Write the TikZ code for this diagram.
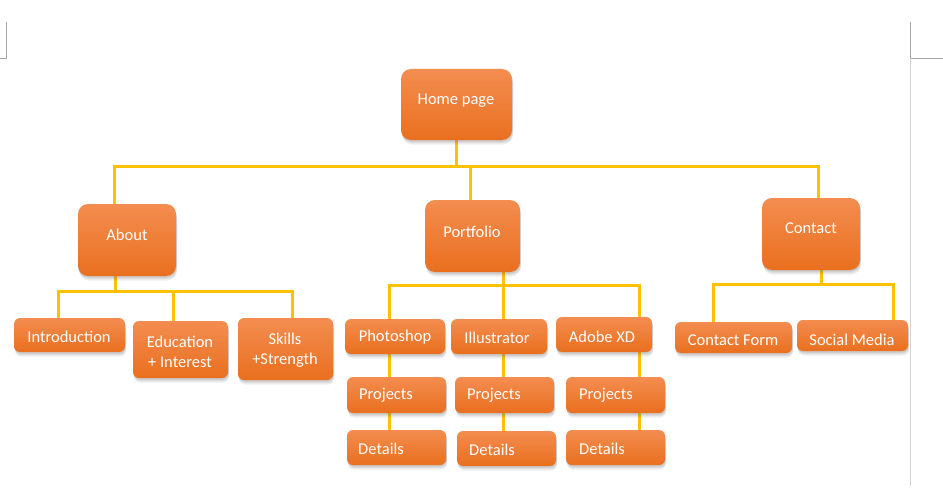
\documentclass[tikz,border=0pt]{standalone}
\usepackage{fontspec}
\setmainfont{Carlito}
\usetikzlibrary{shadows,calc}
\pgfdeclarelayer{bg}
\pgfdeclarelayer{paper}
\pgfsetlayers{paper,bg,main}
\definecolor{otop}{HTML}{F38D50}
\definecolor{obot}{HTML}{E96F1E}
\definecolor{gold}{HTML}{FFC000}
\definecolor{shd}{HTML}{606060}
\tikzset{
  box/.style={rounded corners=#1, top color=otop, bottom color=obot, draw=none,
    inner sep=0pt,
    general shadow={fill=shd, opacity=.10, shadow xshift=1pt, shadow yshift=-4.5pt},
    general shadow={fill=shd, opacity=.12, shadow xshift=1pt, shadow yshift=-3pt},
    general shadow={fill=shd, opacity=.15, shadow xshift=0.5pt, shadow yshift=-1.5pt}},
  box/.default=6pt,
  lbl/.style={text=white, font=\fontsize{16.5}{20}\selectfont, inner sep=0pt, align=center},
  conn/.style={draw=gold, line width=3pt},
  pagemark/.style={draw=gray!70, line width=0.8pt}
}
\begin{document}
\begin{tikzpicture}[x=1pt,y=-1pt]
\useasboundingbox (0,0) rectangle (943,495);
\begin{pgfonlayer}{paper}
\fill[white] (0,0) rectangle (943,495);
\end{pgfonlayer}
% page marks
\draw[pagemark] (6.5,22) -- (6.5,58) -- (0,58);
\draw[pagemark] (910,22) -- (910,58) -- (943,58);
\draw[gray!35, line width=0.8pt] (910,58) -- (910,486);

% level 0/1
\node[box=10pt, minimum width=111pt, minimum height=71pt] (home) at (456.5,104.5) {};
\node[lbl] (homet) at (456,100.5) {Home page};
\node[box=10pt, minimum width=98pt, minimum height=72pt] (about) at (127,240) {};
\node[lbl] (aboutt) at (127,234.5) {About};
\node[box=10pt, minimum width=95pt, minimum height=72pt] (portfolio) at (472.5,236) {};
\node[lbl] (portfoliot) at (472,231.5) {Portfolio};
\node[box=10pt, minimum width=98pt, minimum height=72pt] (contact) at (811,234) {};
\node[lbl] (contactt) at (811,228.5) {Contact};

% about children
\node[box, minimum width=111pt, minimum height=34pt] (intro) at (69.5,335) {};
\node[lbl] (introt) at (69,337) {Introduction};
\node[box, minimum width=95pt, minimum height=57pt] (edu) at (180.5,349.5) {};
\node[lbl] (edut) at (180,351.5) {Education\\+ Interest};
\node[box, minimum width=95pt, minimum height=62pt] (skills) at (285.5,349) {};
\node[lbl] (skillst) at (285,350) {Skills\\+Strength};

% portfolio children
\node[box, minimum width=100pt, minimum height=35pt] (ps) at (395,336.5) {};
\node[lbl] (pst) at (395,337.5) {Photoshop};
\node[box, minimum width=96pt, minimum height=35pt] (il) at (499,336.5) {};
\node[lbl] (ilt) at (497,337.5) {Illustrator};
\node[box, minimum width=96pt, minimum height=35pt] (xd) at (604,334.5) {};
\node[lbl] (xdt) at (602,336.5) {Adobe XD};
\node[box, minimum width=99pt, minimum height=36pt] (p1) at (396.5,395) {};
\node[lbl] (p1t) at (386,395.5) {Projects};
\node[box, minimum width=99pt, minimum height=36pt] (p2) at (504.5,395) {};
\node[lbl] (p2t) at (494,395.5) {Projects};
\node[box, minimum width=99pt, minimum height=36pt] (p3) at (615.5,395) {};
\node[lbl] (p3t) at (606,395.5) {Projects};
\node[box, minimum width=99pt, minimum height=35pt] (d1) at (396.5,447.5) {};
\node[lbl] (d1t) at (381,448.5) {Details};
\node[box, minimum width=99pt, minimum height=35pt] (d2) at (506.5,448.5) {};
\node[lbl] (d2t) at (492,449.5) {Details};
\node[box, minimum width=99pt, minimum height=35pt] (d3) at (615.5,447.5) {};
\node[lbl] (d3t) at (602,448.5) {Details};

% contact children
\node[box, minimum width=117pt, minimum height=31pt] (cf) at (733.5,337.5) {};
\node[lbl] (cft) at (733,340.5) {Contact Form};
\node[box, minimum width=111pt, minimum height=31pt] (sm) at (852.5,335.5) {};
\node[lbl] (smt) at (852,339.5) {Social Media};

\begin{pgfonlayer}{bg}
\draw[conn] (home.south) -- ++(0,27);
\draw[conn] ([xshift=-13pt]about.north) -- ++(0,-37) -| ([xshift=7pt]contact.north);
\draw[conn] ([xshift=-2.5pt]portfolio.north) -- ++(0,-33);
% about
\draw[conn] ([xshift=-12pt]about.south) -- ++(0,16);
\draw[conn] ([xshift=-11.5pt]intro.north) -- ++(0,-26) -| ([xshift=6.5pt]skills.north);
\draw[conn] ([xshift=-7.5pt]edu.north) -- ++(0,-29);
% portfolio
\draw[conn] ([xshift=30.5pt]portfolio.south) -- ([xshift=-3.5pt]d2.north);
\draw[conn] ([xshift=-7.5pt]d1.north) -- ++(0,-144) -| ([xshift=23.5pt]d3.north);
% contact
\draw[conn] ([xshift=10pt]contact.south) -- ++(0,15);
\draw[conn] ([xshift=-20.5pt]cf.north) -- ++(0,-37) -| ([xshift=40.5pt]sm.north);
\end{pgfonlayer}
\end{tikzpicture}
\end{document}
